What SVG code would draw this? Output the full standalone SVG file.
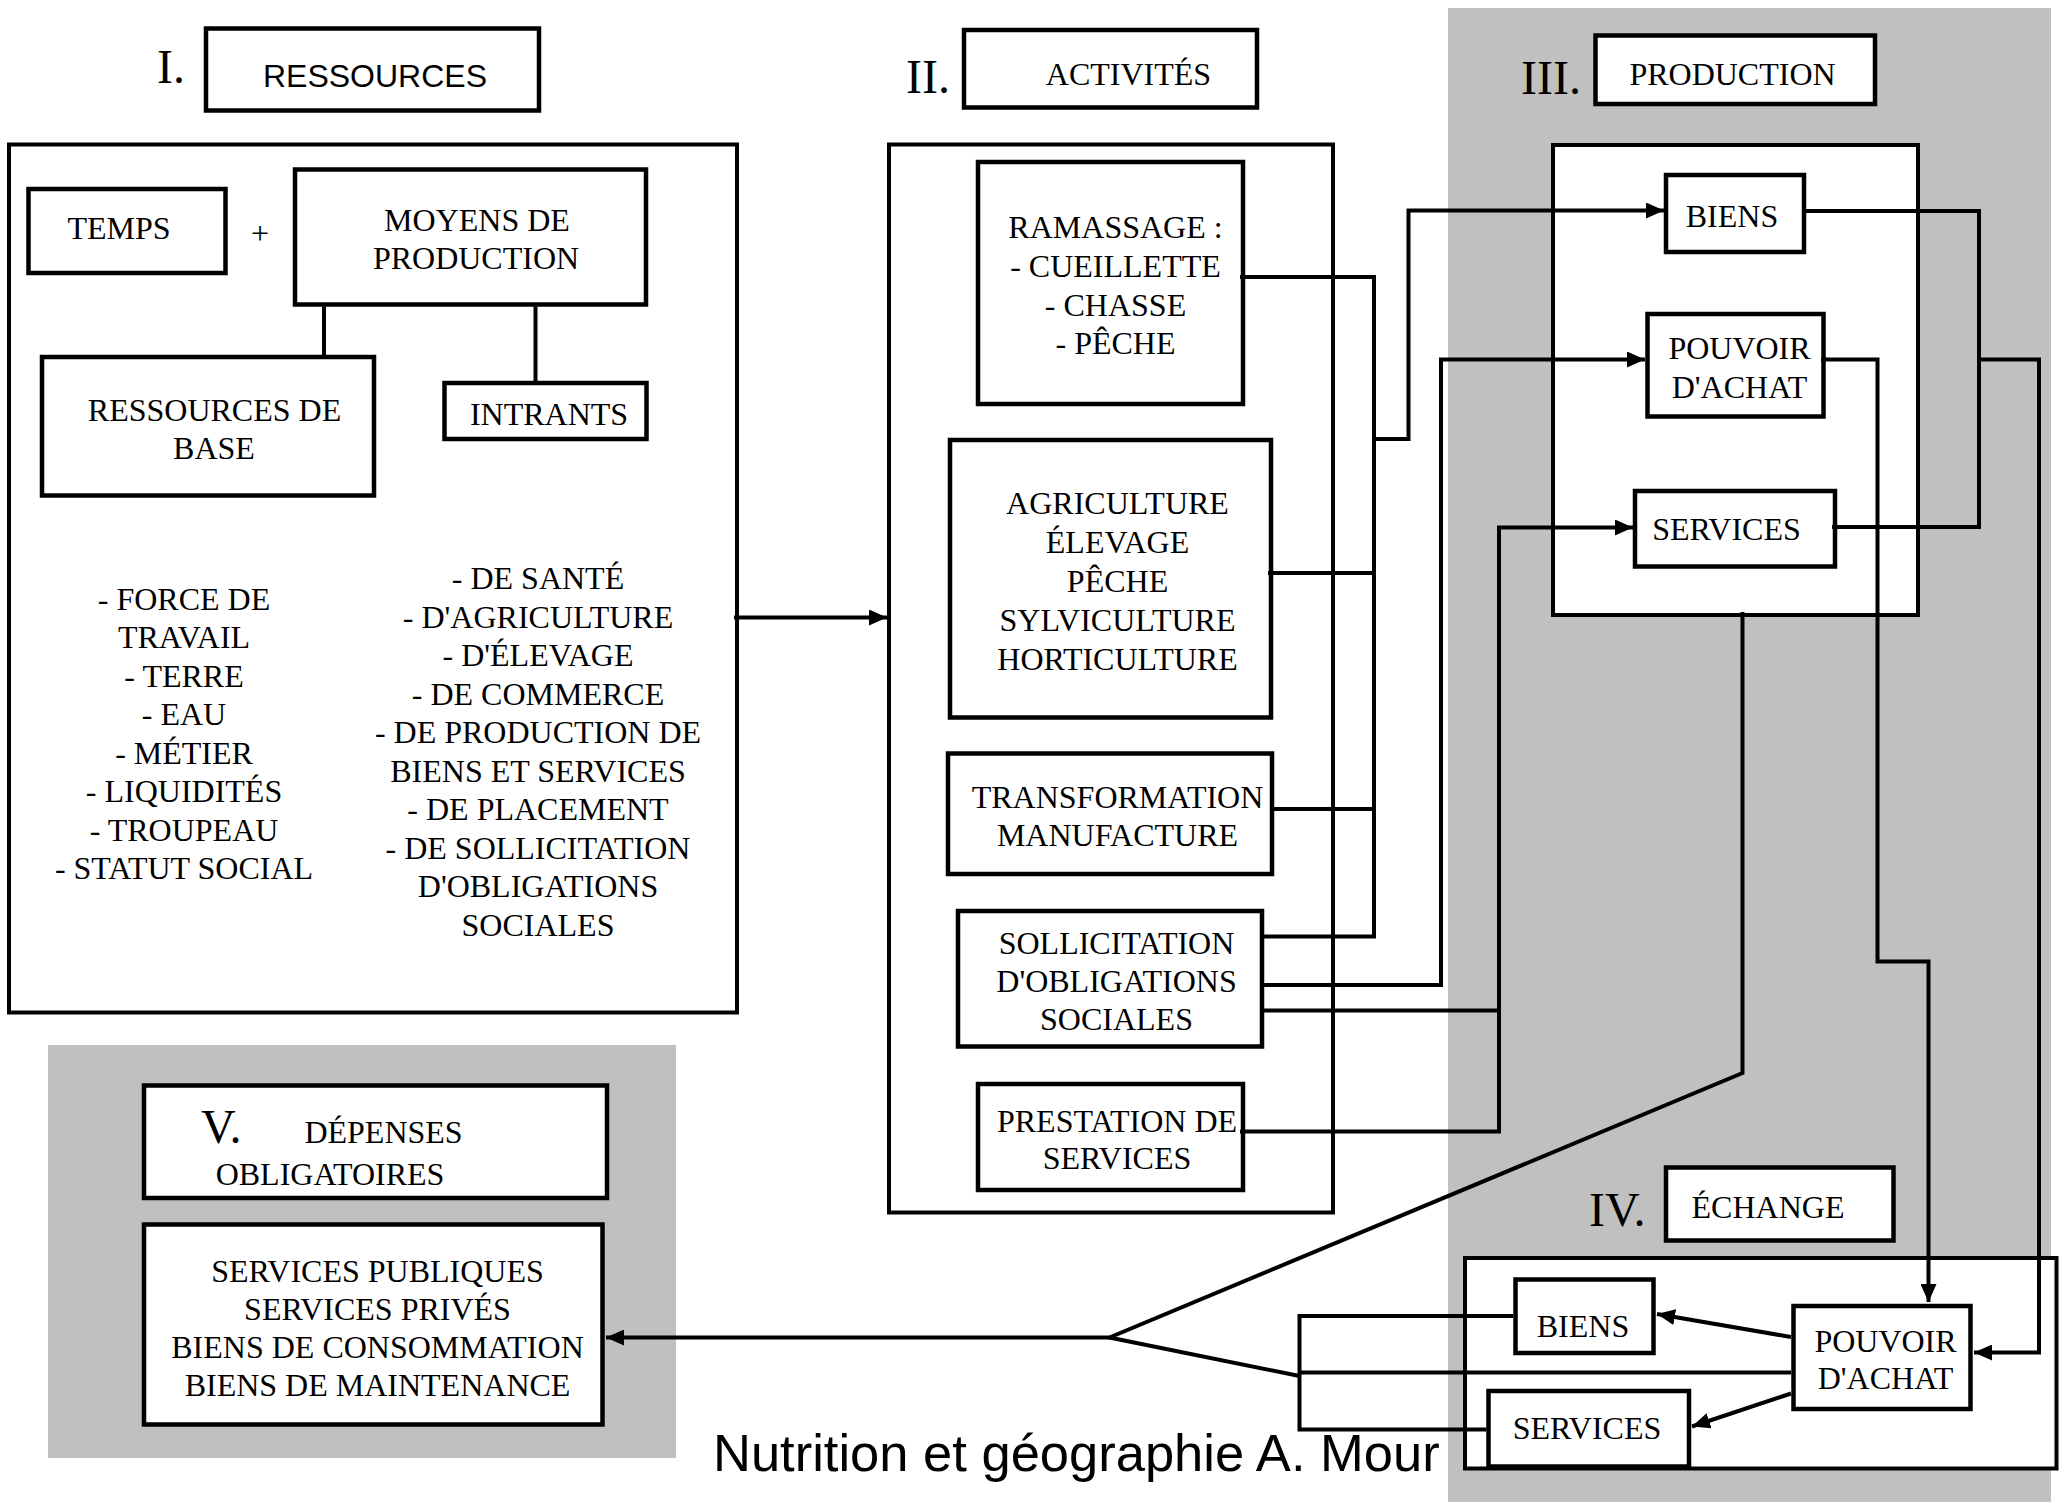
<svg xmlns="http://www.w3.org/2000/svg" width="2067" height="1502" viewBox="0 0 2067 1502">
<style>
.bx{fill:#fff;stroke:#000;stroke-width:4.5}
.ct{fill:#fff;stroke:#000;stroke-width:4}
.gr{fill:#c0c0c0;stroke:none}
.t{font-family:"Liberation Serif","Times New Roman",serif;font-size:32px;fill:#000;text-anchor:middle}
.n{font-family:"Liberation Serif","Times New Roman",serif;font-size:48px;fill:#000}
.s{font-family:"Liberation Sans",Arial,sans-serif;fill:#000}
.ln{fill:none;stroke:#000;stroke-width:4;stroke-linejoin:miter}
.ar{fill:none;stroke:#000;stroke-width:4;marker-end:url(#ah)}
</style>
<defs>
<marker id="ah" markerUnits="userSpaceOnUse" markerWidth="20" markerHeight="16" refX="18" refY="8" orient="auto">
<path d="M0,0 L18,8 L0,16 z" fill="#000"/>
</marker>
</defs>
<rect width="2067" height="1502" fill="#fff"/>
<rect class="gr" x="1448" y="8" width="603" height="1494"/>
<rect class="gr" x="48" y="1045" width="628" height="413"/>

<g id="section-I">
<text class="n" x="157" y="83">I.</text>
<g id="ressources-title"><rect class="bx" x="206" y="28.5" width="333" height="82"/><text class="s" x="375" y="87" font-size="32" text-anchor="middle">RESSOURCES</text></g>
<g id="ressources-container"><rect class="ct" x="9" y="144.5" width="728" height="868"/></g>
<g id="temps"><rect class="bx" x="28.5" y="189" width="197" height="84"/><text class="t" x="119" y="239">TEMPS</text></g>
<text class="t" x="260" y="244" font-size="28">+</text>
<g id="moyens"><rect class="bx" x="295" y="169.5" width="351" height="135"/><text class="t" x="477" y="230.5">MOYENS DE</text><text class="t" x="476" y="268.5">PRODUCTION</text></g>
<g id="ressources-base"><rect class="bx" x="42" y="357" width="332" height="138.5"/><text class="t" x="214.5" y="420.5">RESSOURCES DE</text><text class="t" x="214" y="458.5">BASE</text></g>
<g id="intrants"><rect class="bx" x="444.5" y="383" width="202" height="56"/><text class="t" x="549" y="424.5">INTRANTS</text></g>
<g id="liste-ressources-base">
<text class="t" x="184" y="609.5">- FORCE DE</text>
<text class="t" x="184" y="648">TRAVAIL</text>
<text class="t" x="184" y="686.5">- TERRE</text>
<text class="t" x="184" y="725">- EAU</text>
<text class="t" x="184" y="763.5">- MÉTIER</text>
<text class="t" x="184" y="802">- LIQUIDITÉS</text>
<text class="t" x="184" y="840.5">- TROUPEAU</text>
<text class="t" x="184" y="879">- STATUT SOCIAL</text>
</g>
<g id="liste-intrants">
<text class="t" x="538" y="589">- DE SANTÉ</text>
<text class="t" x="538" y="627.5">- D'AGRICULTURE</text>
<text class="t" x="538" y="666">- D'ÉLEVAGE</text>
<text class="t" x="538" y="704.5">- DE COMMERCE</text>
<text class="t" x="538" y="743">- DE PRODUCTION DE</text>
<text class="t" x="538" y="781.5">BIENS ET SERVICES</text>
<text class="t" x="538" y="820">- DE PLACEMENT</text>
<text class="t" x="538" y="858.5">- DE SOLLICITATION</text>
<text class="t" x="538" y="897">D'OBLIGATIONS</text>
<text class="t" x="538" y="935.5">SOCIALES</text>
</g>
</g>

<g id="section-II">
<text class="n" x="906" y="93">II.</text>
<g id="activites-title"><rect class="bx" x="964" y="30" width="293" height="77.5"/><text class="t" x="1128.5" y="84.5">ACTIVITÉS</text></g>
<g id="activites-container"><rect class="ct" x="889" y="144.5" width="444" height="1068"/></g>
<g id="ramassage"><rect class="bx" x="978" y="162" width="265" height="242"/><text class="t" x="1115.5" y="238">RAMASSAGE :</text><text class="t" x="1115.5" y="277">- CUEILLETTE</text><text class="t" x="1115.5" y="315.5">- CHASSE</text><text class="t" x="1115.5" y="354">- PÊCHE</text></g>
<g id="agriculture"><rect class="bx" x="950" y="440" width="321" height="277.5"/><text class="t" x="1117.5" y="514">AGRICULTURE</text><text class="t" x="1117.5" y="553">ÉLEVAGE</text><text class="t" x="1117.5" y="592">PÊCHE</text><text class="t" x="1117.5" y="631">SYLVICULTURE</text><text class="t" x="1117.5" y="669.5">HORTICULTURE</text></g>
<g id="transformation"><rect class="bx" x="948" y="753.5" width="324" height="120.5"/><text class="t" x="1117.5" y="808">TRANSFORMATION</text><text class="t" x="1117.5" y="846">MANUFACTURE</text></g>
<g id="sollicitation"><rect class="bx" x="958" y="911" width="304" height="135.5"/><text class="t" x="1116.5" y="954">SOLLICITATION</text><text class="t" x="1116.5" y="992">D'OBLIGATIONS</text><text class="t" x="1116.5" y="1029.5">SOCIALES</text></g>
<g id="prestation"><rect class="bx" x="978" y="1084" width="265" height="106"/><text class="t" x="1117" y="1131.5">PRESTATION DE</text><text class="t" x="1117" y="1169">SERVICES</text></g>
</g>

<g id="section-III">
<text class="n" x="1521" y="94">III.</text>
<g id="production-title"><rect class="bx" x="1595.5" y="35.5" width="279.5" height="68.5"/><text class="t" x="1732.5" y="85">PRODUCTION</text></g>
<g id="production-container"><rect class="ct" x="1553" y="145" width="365" height="470"/></g>
<g id="biens-prod"><rect class="bx" x="1666" y="175" width="138" height="77"/><text class="t" x="1732" y="226.5">BIENS</text></g>
<g id="pouvoir-prod"><rect class="bx" x="1647.5" y="314" width="176" height="102.5"/><text class="t" x="1739.5" y="359">POUVOIR</text><text class="t" x="1739.5" y="398">D'ACHAT</text></g>
<g id="services-prod"><rect class="bx" x="1635" y="491" width="200" height="75.5"/><text class="t" x="1726.5" y="540">SERVICES</text></g>
</g>

<g id="section-IV">
<text class="n" x="1589" y="1225.5">IV.</text>
<g id="echange-title"><rect class="bx" x="1666" y="1167.5" width="227.5" height="73"/><text class="t" x="1768" y="1218">ÉCHANGE</text></g>
<g id="echange-container"><rect class="ct" x="1465" y="1258" width="591.5" height="210.5"/></g>
<g id="biens-ech"><rect class="bx" x="1515.5" y="1279.5" width="138" height="73.5"/><text class="t" x="1583" y="1336.5">BIENS</text></g>
<g id="pouvoir-ech"><rect class="bx" x="1793.5" y="1306" width="177" height="103"/><text class="t" x="1885.5" y="1351.5">POUVOIR</text><text class="t" x="1885.5" y="1389">D'ACHAT</text></g>
<g id="services-ech"><rect class="bx" x="1488.5" y="1391" width="200.5" height="75.5"/><text class="t" x="1587" y="1438.5">SERVICES</text></g>
</g>

<g id="section-V">
<g id="depenses-title"><rect class="bx" x="144" y="1085.5" width="463" height="112.5"/><text class="n" x="201" y="1143">V.</text><text class="t" x="383.5" y="1143">DÉPENSES</text><text class="t" x="330" y="1185">OBLIGATOIRES</text></g>
<g id="depenses-liste"><rect class="bx" x="144" y="1224.5" width="458.5" height="200"/><text class="t" x="377.5" y="1281.5">SERVICES PUBLIQUES</text><text class="t" x="377.5" y="1319.8">SERVICES PRIVÉS</text><text class="t" x="377.5" y="1358.1">BIENS DE CONSOMMATION</text><text class="t" x="377.5" y="1396.4">BIENS DE MAINTENANCE</text></g>
</g>

<g id="connectors">
<path class="ln" d="M324,306.5 V355"/>
<path class="ln" d="M535.5,306.5 V381"/>
<path class="ar" d="M734,617.5 H887"/>
<path class="ln" d="M1240,277 H1374 V936.5 H1262"/>
<path class="ln" d="M1268,573 H1374"/>
<path class="ln" d="M1271,809 H1374"/>
<path class="ar" d="M1374,439 H1408.5 V210.5 H1664"/>
<path class="ar" d="M1262,985 H1441 V359.5 H1645"/>
<path class="ln" d="M1262,1010.5 H1499"/>
<path class="ar" d="M1240,1131.5 H1499 V527.5 H1633"/>
<path class="ln" d="M1805,211 H1979 V527 H1832"/>
<path class="ar" d="M1979,359.5 H2039 V1352.5 H1974"/>
<path class="ar" d="M1821,359.5 H1877.5 V961.5 H1928.5 V1302"/>
<path class="ln" d="M1742.5,612 V1073 L1109.5,1337.5 L1299.5,1376"/>
<path class="ar" d="M1109.5,1337.5 H606"/>
<path class="ln" d="M1513,1316 H1299.5 V1429.5 H1486.5"/>
<path class="ln" d="M1299.5,1372.5 H1791" stroke-width="3.5"/>
<path class="ar" d="M1791,1337 L1657,1314"/>
<path class="ar" d="M1791,1393.5 L1692,1426.5"/>
</g>

<text class="s" x="713" y="1471" font-size="52.5">Nutrition et géographie A. Mour</text>
</svg>
